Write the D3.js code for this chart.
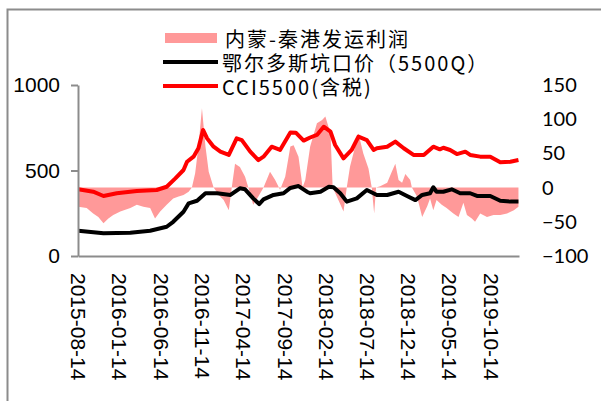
<!DOCTYPE html>
<html>
<head>
<meta charset="utf-8">
<script src="https://cdn.jsdelivr.net/npm/d3@7"></script>
<style>
  body { margin: 0; background: #fff; }
  svg { display: block; }
</style>
</head>
<body>
<svg id="drawing_region"></svg>
<script>
// x tick labels
const tickLabels = ["2015-08-14","2016-01-14","2016-06-14","2016-11-14","2017-04-14",
    "2017-09-14","2018-02-14","2018-07-14","2018-12-14","2019-05-14","2019-10-14"];

// 内蒙-秦港发运利润 (right axis)
const profitDates = ["2015-08-15","2015-09-15","2015-10-09","2015-10-28","2015-11-16","2015-12-04","2015-12-22",
    "2016-01-17","2016-02-23","2016-03-18","2016-04-11","2016-05-06","2016-05-24","2016-06-12","2016-07-06",
    "2016-07-30","2016-08-19","2016-09-06","2016-09-25","2016-10-07","2016-10-19","2016-10-31","2016-11-13",
    "2016-11-26","2016-12-08","2016-12-26","2017-01-14","2017-02-01","2017-02-20","2017-03-03","2017-03-15",
    "2017-04-02","2017-04-21","2017-05-03","2017-05-21","2017-06-09","2017-06-28","2017-07-22","2017-08-10",
    "2017-08-28","2017-09-16","2017-10-05","2017-10-17","2017-11-04","2017-11-14","2017-11-19","2017-11-29",
    "2017-12-17","2018-01-11","2018-01-30","2018-02-11","2018-03-02","2018-03-10","2018-03-31","2018-04-19",
    "2018-05-01","2018-05-13","2018-06-01","2018-06-13","2018-07-01","2018-07-20","2018-08-01","2018-08-10",
    "2018-08-17","2018-09-01","2018-09-27","2018-10-14","2018-10-27","2018-11-08","2018-11-21","2018-12-03",
    "2018-12-21","2018-12-27","2019-01-15","2019-02-03","2019-02-22","2019-03-04","2019-03-16","2019-03-28",
    "2019-04-16","2019-05-04","2019-05-29","2019-06-17","2019-07-05","2019-07-18","2019-08-05","2019-08-17",
    "2019-09-05","2019-09-30","2019-10-24","2019-11-18","2019-12-13","2020-01-07","2020-01-24"];
const profitValues = [-28,-30,-38,-43,-52,-45,-40,
    -35,-30,-25,-28,-30,-45,-35,-25,
    -16,-13,-11,-6,0,21,60,116,
    60,23,0,-11,-18,-33,0,35,
    30,16,0,-25,-13,0,23,11,
    -3,16,60,62,45,16,0,11,
    60,94,99,104,79,0,-18,-35,
    0,31,60,79,50,28,0,-38,
    0,2,7,23,35,11,7,20,
    11,0,-13,-43,-27,-16,-33,-18,
    -25,-30,-38,-43,-22,-40,-45,-50,
    -38,-43,-40,-40,-38,-33,-28];

// 鄂尔多斯坑口价（5500Q）(left axis)
const ordosDates = ["2015-08-15","2015-11-16","2016-02-23","2016-05-06","2016-07-06","2016-07-30","2016-09-06",
    "2016-09-25","2016-10-26","2016-11-26","2017-01-08","2017-02-26","2017-04-02","2017-04-21","2017-05-21",
    "2017-06-12","2017-06-28","2017-08-04","2017-09-10","2017-10-05","2017-11-04","2017-12-05","2017-12-17",
    "2018-01-24","2018-02-24","2018-03-13","2018-04-07","2018-05-01","2018-06-07","2018-07-14","2018-08-20",
    "2018-09-27","2018-11-08","2018-12-09","2019-01-09","2019-02-03","2019-03-04","2019-03-16","2019-03-28",
    "2019-04-22","2019-05-23","2019-06-23","2019-07-30","2019-08-24","2019-10-12","2019-11-18","2019-12-25",
    "2020-01-24"];
const ordosValues = [148,133,136,148,171,200,259,
    308,323,367,367,357,396,390,337,
    304,331,357,367,398,409,376,367,
    376,405,402,367,318,337,386,357,
    357,376,351,327,357,367,402,376,
    376,390,367,367,351,351,323,318,
    318];

// CCI5500（含税）(left axis)
const cciDates = ["2015-08-15","2015-10-09","2015-11-16","2016-01-04","2016-03-18","2016-05-30","2016-07-06",
    "2016-08-07","2016-09-06","2016-09-19","2016-10-13","2016-10-31","2016-11-17","2016-12-02","2016-12-26",
    "2017-01-20","2017-02-20","2017-03-21","2017-04-09","2017-05-10","2017-06-09","2017-06-28","2017-07-28",
    "2017-08-28","2017-10-05","2017-10-25","2017-11-23","2017-12-17","2018-01-11","2018-02-05","2018-03-02",
    "2018-03-19","2018-04-19","2018-05-19","2018-06-13","2018-07-14","2018-08-08","2018-08-20","2018-09-27",
    "2018-10-27","2018-11-27","2019-01-02","2019-02-09","2019-03-16","2019-04-09","2019-04-22","2019-05-17",
    "2019-06-11","2019-07-12","2019-07-30","2019-09-05","2019-10-12","2019-11-18","2019-12-25","2020-01-24"];
const cciValues = [390,376,351,367,380,386,405,
    454,503,551,581,630,737,688,639,
    610,591,688,678,610,561,581,639,
    620,722,721,675,693,708,756,727,
    649,571,620,698,678,620,630,639,
    669,630,591,591,639,624,633,620,
    596,610,591,581,581,548,551,561];

const legendNames = ["内蒙-秦港发运利润", "鄂尔多斯坑口价（5500Q）", "CCI5500(含税)"];

class DualAxisChart {
    constructor( config ) {
        this.config = config;
        this.init();
    }

    init() {
        let self = this;
        const c = self.config;
        const parse = d3.timeParse("%Y-%m-%d");
        self.parse = parse;

        self.svg = d3.select( c.parent )
            .attr('width', c.width)
            .attr('height', c.height);

        // outer frame
        self.svg.append('rect')
            .attr('x', 7.5).attr('y', 9.5)
            .attr('width', 620).attr('height', 420)
            .attr('fill', 'none')
            .attr('stroke', '#8c8c8c')
            .attr('stroke-width', 2);

        self.xscale = d3.scaleTime()
            .domain( [parse("2015-08-14"), parse("2020-01-26")] )
            .range( [c.left, c.right] );
        self.yleft = d3.scaleLinear()
            .domain( [0, 1000] )
            .range( [c.bottom, c.top] );
        self.yright = d3.scaleLinear()
            .domain( [-100, 150] )
            .range( [c.bottom, c.top] );
    }

    render() {
        let self = this;
        const c = self.config;
        const parse = self.parse;

        const profit = profitDates.map( (d, i) => ({ date: parse(d), v: profitValues[i] }) );
        const ordos = ordosDates.map( (d, i) => ({ date: parse(d), v: ordosValues[i] }) );
        const cci = cciDates.map( (d, i) => ({ date: parse(d), v: cciValues[i] }) );

        const area = d3.area()
            .x( d => self.xscale(d.date) )
            .y0( self.yright(0) )
            .y1( d => self.yright(d.v) );

        self.svg.append('path')
            .datum(profit)
            .attr('d', area)
            .attr('fill', '#ff9999');

        const lineL = d3.line()
            .x( d => self.xscale(d.date) )
            .y( d => self.yleft(d.v) );

        self.svg.append('path')
            .datum(ordos)
            .attr('d', lineL)
            .attr('fill', 'none')
            .attr('stroke', '#000')
            .attr('stroke-width', 4)
            .attr('stroke-linejoin', 'round');

        self.svg.append('path')
            .datum(cci)
            .attr('d', lineL)
            .attr('fill', 'none')
            .attr('stroke', '#ff0000')
            .attr('stroke-width', 4)
            .attr('stroke-linejoin', 'round');

        // bottom axis
        const xaxis = d3.axisBottom( self.xscale )
            .tickValues( tickLabels.map(parse) )
            .tickFormat( d3.timeFormat("%Y-%m-%d") )
            .tickSize(0)
            .tickSizeOuter(0);
        const xg = self.svg.append('g')
            .attr('transform', `translate(0, ${c.bottom})`)
            .call( xaxis );
        xg.select('.domain').attr('stroke', '#8c8c8c').attr('stroke-width', 2);
        xg.selectAll('text')
            .attr('transform', 'rotate(90)')
            .attr('x', 17)
            .attr('y', 0)
            .attr('dy', '0.36em')
            .attr('text-anchor', 'start')
            .attr('font-family', 'Liberation Sans, Arial, sans-serif')
            .attr('font-size', 21)
            .attr('fill', '#000');

        // left axis
        const yaxisL = d3.axisLeft( self.yleft )
            .tickValues( [0, 500, 1000] )
            .tickFormat( d3.format("d") )
            .tickSize(7)
            .tickSizeOuter(0)
            .tickPadding(11);
        const ylg = self.svg.append('g')
            .attr('transform', `translate(${c.left}, 0)`)
            .call( yaxisL );
        ylg.selectAll('.domain, line').attr('stroke', '#8c8c8c').attr('stroke-width', 2);
        ylg.selectAll('text')
            .attr('font-family', 'Liberation Sans, Arial, sans-serif')
            .attr('font-size', 21)
            .attr('fill', '#000');

        // right axis
        const yaxisR = d3.axisRight( self.yright )
            .tickValues( [-100, -50, 0, 50, 100, 150] )
            .tickSize(0)
            .tickPadding(23);
        const yrg = self.svg.append('g')
            .attr('transform', `translate(${c.right}, 0)`)
            .call( yaxisR );
        yrg.select('.domain').remove();
        yrg.selectAll('text')
            .attr('font-family', 'Lato, Open Sans, sans-serif')
            .attr('font-size', 20)
            .attr('fill', '#000');

        // legend
        const lg = self.svg.append('g');
        lg.append('rect')
            .attr('x', 165).attr('y', 33)
            .attr('width', 52).attr('height', 10)
            .attr('fill', '#ff9999');
        lg.append('line')
            .attr('x1', 163).attr('x2', 218)
            .attr('y1', 62).attr('y2', 62)
            .attr('stroke', '#000').attr('stroke-width', 4);
        lg.append('line')
            .attr('x1', 163).attr('x2', 218)
            .attr('y1', 86).attr('y2', 86)
            .attr('stroke', '#ff0000').attr('stroke-width', 4);
        lg.selectAll('text.legend')
            .data(legendNames)
            .enter()
            .append('text')
            .attr('class', 'legend')
            .attr('x', (d, i) => i == 0 ? 225 : 222)
            .attr('y', (d, i) => 38 + i * 24)
            .attr('dominant-baseline', 'central')
            .attr('font-family', 'Noto Sans CJK SC, sans-serif')
            .attr('font-size', 20)
            .attr('letter-spacing', 2)
            .attr('fill', '#000')
            .text( d => d );
    }
}

const chart = new DualAxisChart({
    parent: '#drawing_region',
    width: 601,
    height: 401,
    left: 78,
    right: 519,
    top: 85,
    bottom: 256
});
chart.render();
</script>
</body>
</html>
